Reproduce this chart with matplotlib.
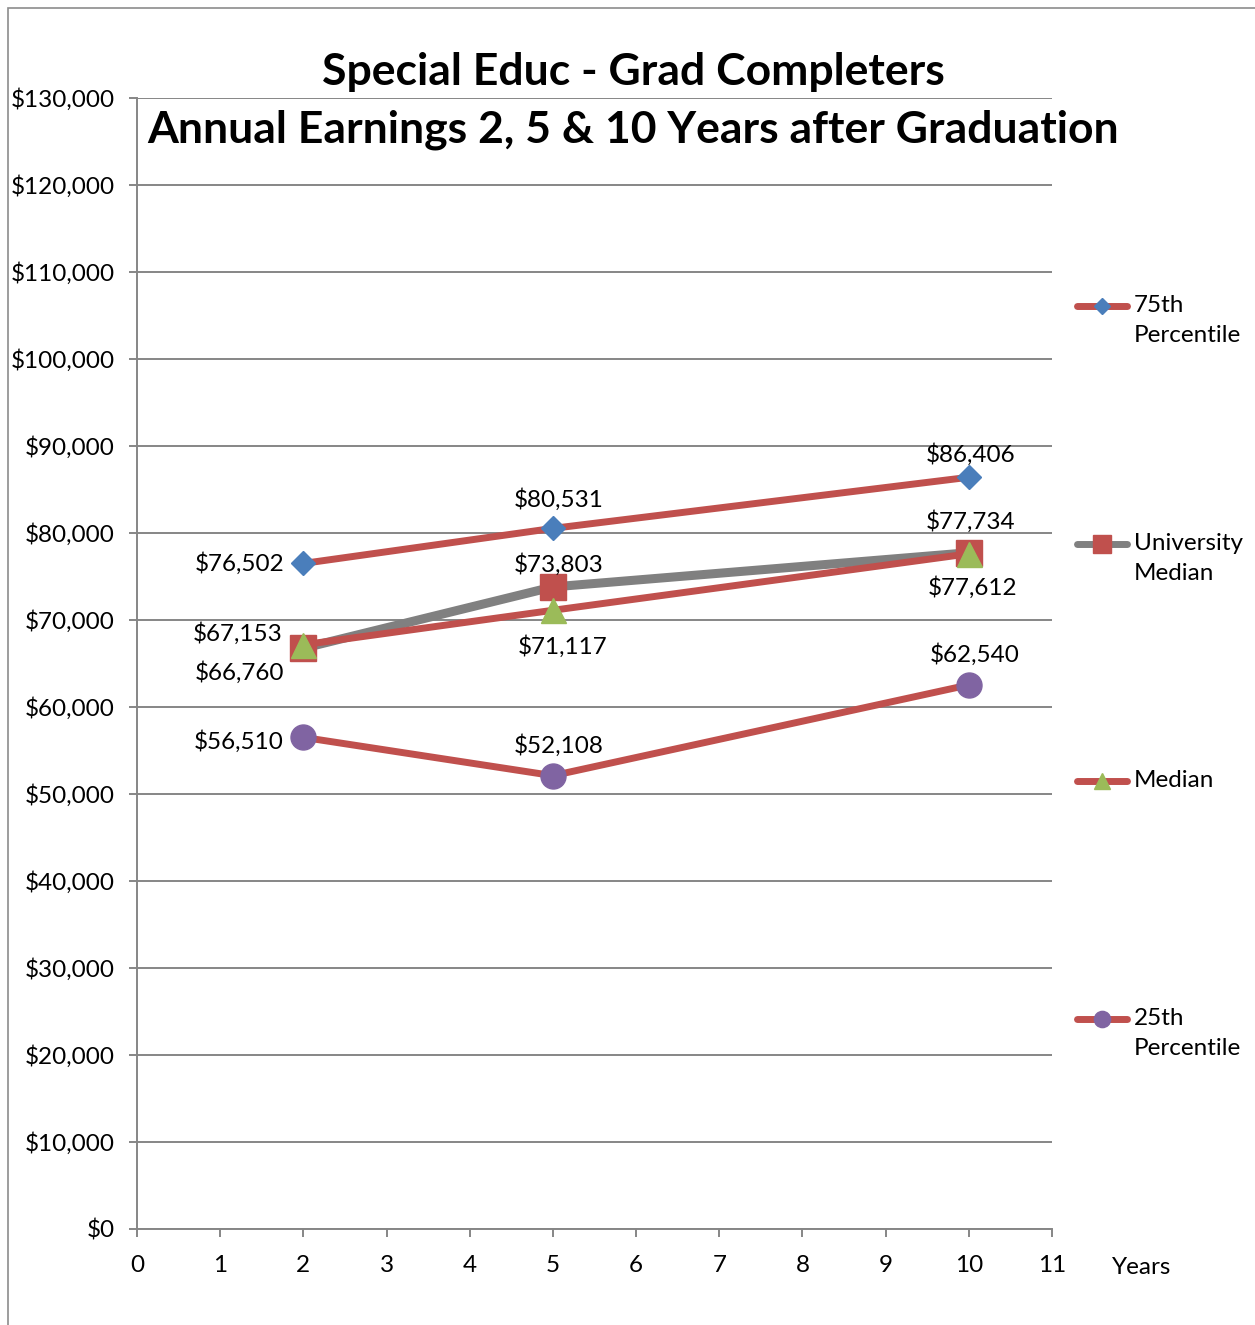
import matplotlib.pyplot as plt
from matplotlib.lines import Line2D
from matplotlib.patches import Rectangle
from matplotlib.ticker import FuncFormatter

plt.rcParams['font.family'] = ['Lato', 'DejaVu Sans']

# ---------------------------------------------------------------------------
# Data
# ---------------------------------------------------------------------------
years = [2, 5, 10]
p75 = [76502, 80531, 86406]
univ_median = [66760, 73803, 77734]
median = [67153, 71117, 77612]
p25 = [56510, 52108, 62540]

series_names = ["75th\nPercentile", "University\nMedian", "Median", "25th\nPercentile"]
series_values = [p75, univ_median, median, p25]

# label offsets in pixels (dx, dy, ha) per point
label_offsets = [
    [(-19, 0, 'right'), (6, 29, 'center'), (2, 23, 'center')],
    [(-19, -24, 'right'), (6, 22, 'center'), (2, 31, 'center')],
    [(-21, 11, 'right'), (10, -36, 'center'), (4, -34, 'center')],
    [(-20, -4, 'right'), (6, 30, 'center'), (6, 30, 'center')],
]

RED = '#C0504D'
line_colors = [RED, '#808080', RED, RED]
line_widths = [5, 6.5, 5, 5]
marker_styles = ['D', 's', '^', 'o']
marker_sizes = [12, 19, 18, 18]
marker_colors = ['#4A7EBB', '#C0504D', '#9BBB59', '#8064A2']
zorders = [4, 3, 5, 4]

W, H = 1255, 1325
FS = 17.5
fig = plt.figure(figsize=(W / 100, H / 100), dpi=100)
ax = fig.add_axes([137 / W, 1 - 1229 / H, (1052 - 137) / W, (1229 - 98) / H])

grid_c = '#868686'
ax.set_xlim(0, 11)
ax.set_ylim(0, 130000)
ax.set_xticks(range(0, 12))
ax.set_yticks(range(0, 130001, 10000))
ax.yaxis.set_major_formatter(FuncFormatter(lambda v, p: f"${v:,.0f}"))
ax.grid(axis='y', color=grid_c, lw=1.4)
ax.set_axisbelow(True)
for s in ['top', 'right']:
    ax.spines[s].set_visible(False)
for s in ['left', 'bottom']:
    ax.spines[s].set_color(grid_c)
    ax.spines[s].set_linewidth(1.4)
ax.tick_params(axis='both', colors=grid_c, width=1.4, length=6, labelcolor='black',
               labelsize=FS)
ax.tick_params(axis='x', pad=13)
ax.tick_params(axis='y', pad=10)

for vals, c, lw, m, ms, mc, z, offs in zip(series_values, line_colors, line_widths,
                                          marker_styles, marker_sizes, marker_colors,
                                          zorders, label_offsets):
    ax.plot(years, vals, color=c, lw=lw, marker=m, markersize=ms,
            markerfacecolor=mc, markeredgecolor=mc, zorder=z, clip_on=False)
    for x, v, (dx, dy, ha) in zip(years, vals, offs):
        ax.annotate(f"${v:,}", (x, v), xytext=(dx, dy), textcoords='offset pixels',
                    ha=ha, va='center', fontsize=FS, zorder=6)

# axis title "Years"
fig.text(1142 / W, 1 - 1268 / H, "Years", ha='center', va='center', fontsize=FS)

# chart title
fig.text(633 / W, 1 - 72 / H, "Special Educ - Grad Completers", ha='center', va='center',
         fontsize=32, fontweight='bold')
fig.text(633 / W, 1 - 130 / H, "Annual Earnings 2, 5 & 10 Years after Graduation",
         ha='center', va='center', fontsize=32, fontweight='bold')

# legend drawn by hand to match the spaced layout
legend_y = [306, 544, 781, 1019]
for name, c, m, ms, mc, ly in zip(series_names, line_colors, marker_styles,
                                  marker_sizes, marker_colors, legend_y):
    yf = 1 - ly / H
    fig.add_artist(Line2D([1077 / W, 1127 / W], [yf, yf], color=c, lw=5,
                          solid_capstyle='round', transform=fig.transFigure))
    fig.add_artist(Line2D([1102 / W], [yf], marker=m, markersize=ms * 0.65,
                          markerfacecolor=mc, markeredgecolor=mc, lw=0,
                          transform=fig.transFigure))
    fig.text(1134 / W, yf + 11 / H, name, ha='left', va='top', fontsize=FS,
             linespacing=1.55)

# outer chart frame
fig.add_artist(Rectangle((8 / W, -0.05), 1.1, 1 - 8 / H + 0.05, fill=False,
                         edgecolor='#8c8c8c', lw=1.2, transform=fig.transFigure))

fig.savefig("out.png", dpi=100)
